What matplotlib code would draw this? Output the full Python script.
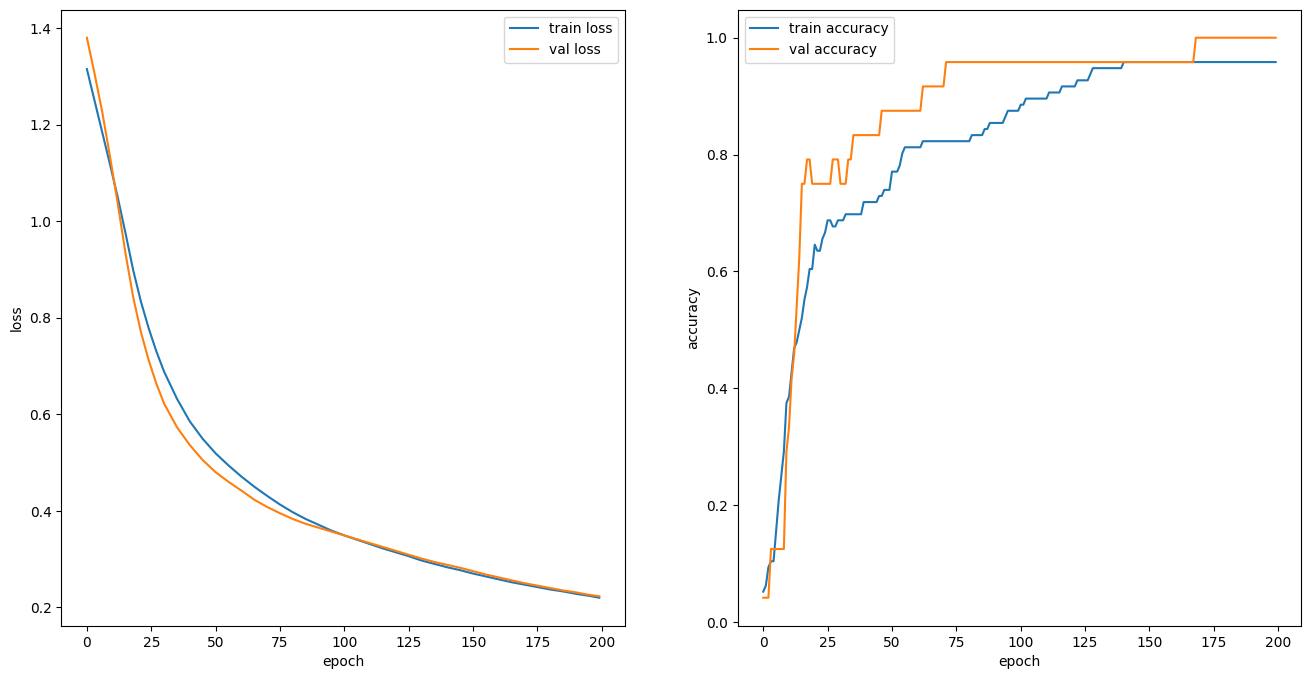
import numpy as np
import matplotlib
matplotlib.use('Agg')
import matplotlib.pyplot as plt


# loss curves (denser where the curves bend, last point is epoch 199):
loss_epochs = [0, 3, 6, 9, 12, 15, 18, 21, 24, 27, 30, 35, 40, 45,
               50, 55, 60, 65, 70, 75, 80, 85, 90, 95,
               100, 105, 110, 115, 120, 125, 130, 135, 140, 145,
               150, 155, 160, 165, 170, 175, 180, 185, 190, 195, 199]

train_loss = [1.315, 1.249, 1.183, 1.117, 1.049, 0.975, 0.898, 0.833, 0.778, 0.730, 0.688, 0.632, 0.585, 0.549,
              0.519, 0.494, 0.471, 0.450, 0.431, 0.413, 0.397, 0.383, 0.371, 0.359,
              0.349, 0.340, 0.331, 0.322, 0.314, 0.306, 0.297, 0.290, 0.283, 0.277,
              0.270, 0.264, 0.258, 0.252, 0.247, 0.242, 0.237, 0.233, 0.228, 0.224, 0.220]

val_loss = [1.380, 1.305, 1.225, 1.133, 1.036, 0.933, 0.842, 0.770, 0.712, 0.663, 0.622, 0.573, 0.536, 0.505,
            0.480, 0.460, 0.442, 0.423, 0.408, 0.395, 0.383, 0.373, 0.365, 0.357,
            0.349, 0.341, 0.333, 0.325, 0.317, 0.309, 0.301, 0.294, 0.288, 0.282,
            0.275, 0.268, 0.262, 0.256, 0.250, 0.245, 0.240, 0.235, 0.231, 0.226, 0.223]

# accuracy: number of correct samples per epoch (train set 96, val set 24)
n_train = 96
n_val = 24

train_correct = [5, 6, 9, 10, 10, 15, 20, 24, 28, 36, 37, 41, 45, 46, 48, 50, 53, 55, 58, 58,
                 62, 61, 61, 63, 64, 66, 66, 65, 65, 66, 66, 66, 67, 67, 67, 67, 67, 67, 67, 69,
                 69, 69, 69, 69, 69, 70, 70, 71, 71, 71, 74, 74, 74, 75, 77, 78, 78, 78, 78, 78,
                 78, 78, 79, 79, 79, 79, 79, 79, 79, 79, 79, 79, 79, 79, 79, 79, 79, 79, 79, 79,
                 79, 80, 80, 80, 80, 80, 81, 81, 82, 82, 82, 82, 82, 82, 83, 84, 84, 84, 84, 84,
                 85, 85, 86, 86, 86, 86, 86, 86, 86, 86, 86, 87, 87, 87, 87, 87, 88, 88, 88, 88,
                 88, 88, 89, 89, 89, 89, 89, 90, 91, 91, 91, 91, 91, 91, 91, 91, 91, 91, 91, 91,
                 92, 92, 92, 92, 92, 92, 92, 92, 92, 92, 92, 92, 92, 92, 92, 92, 92, 92, 92, 92,
                 92, 92, 92, 92, 92, 92, 92, 92, 92, 92, 92, 92, 92, 92, 92, 92, 92, 92, 92, 92,
                 92, 92, 92, 92, 92, 92, 92, 92, 92, 92, 92, 92, 92, 92, 92, 92, 92, 92, 92, 92]

val_correct = [1, 1, 1, 3, 3, 3, 3, 3, 3, 7, 8, 10, 11, 13, 15, 18, 18, 19, 19, 18,
               18, 18, 18, 18, 18, 18, 18, 19, 19, 19, 18, 18, 18, 19, 19, 20, 20, 20, 20, 20,
               20, 20, 20, 20, 20, 20, 21, 21, 21, 21, 21, 21, 21, 21, 21, 21, 21, 21, 21, 21,
               21, 21, 22, 22, 22, 22, 22, 22, 22, 22, 22, 23, 23, 23, 23, 23, 23, 23, 23, 23,
               23, 23, 23, 23, 23, 23, 23, 23, 23, 23, 23, 23, 23, 23, 23, 23, 23, 23, 23, 23,
               23, 23, 23, 23, 23, 23, 23, 23, 23, 23, 23, 23, 23, 23, 23, 23, 23, 23, 23, 23,
               23, 23, 23, 23, 23, 23, 23, 23, 23, 23, 23, 23, 23, 23, 23, 23, 23, 23, 23, 23,
               23, 23, 23, 23, 23, 23, 23, 23, 23, 23, 23, 23, 23, 23, 23, 23, 23, 23, 23, 23,
               23, 23, 23, 23, 23, 23, 23, 23, 24, 24, 24, 24, 24, 24, 24, 24, 24, 24, 24, 24,
               24, 24, 24, 24, 24, 24, 24, 24, 24, 24, 24, 24, 24, 24, 24, 24, 24, 24, 24, 24]

train_acc = np.array(train_correct) / n_train
val_acc = np.array(val_correct) / n_val
acc_epochs = np.arange(len(train_acc))


fig, (ax1, ax2) = plt.subplots(1, 2, figsize=(16, 8))

# loss:
ax1.plot(loss_epochs, train_loss, label='train loss')
ax1.plot(loss_epochs, val_loss, label='val loss')
ax1.set_xlabel('epoch')
ax1.set_ylabel('loss')
ax1.legend()

# accuracy:
ax2.plot(acc_epochs, train_acc, label='train accuracy')
ax2.plot(acc_epochs, val_acc, label='val accuracy')
ax2.set_xlabel('epoch')
ax2.set_ylabel('accuracy')
ax2.legend()

fig.savefig('out.png', dpi=100, bbox_inches='tight')
